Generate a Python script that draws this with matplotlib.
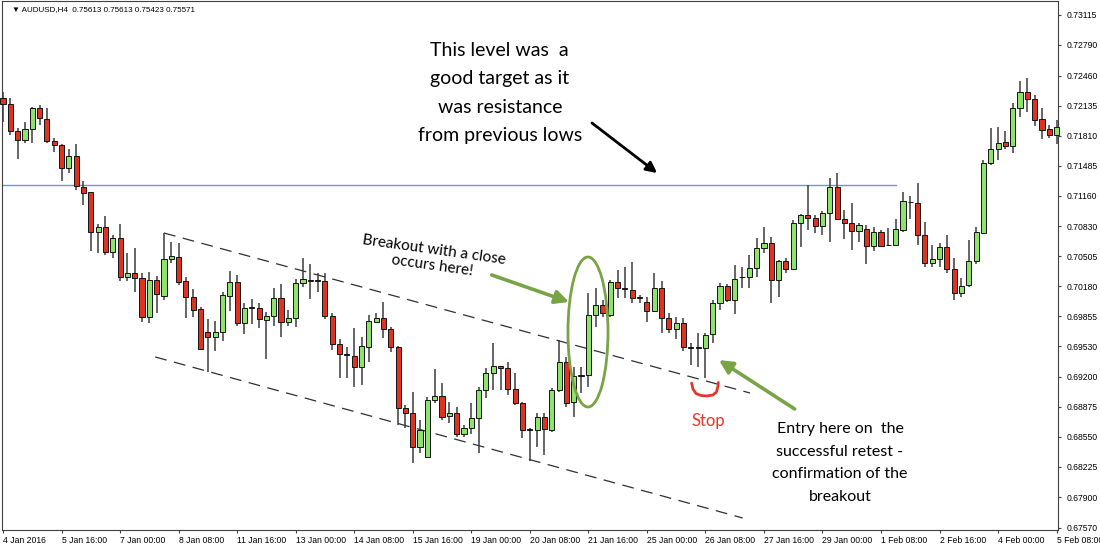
import matplotlib
matplotlib.use("Agg")
import matplotlib.pyplot as plt
from matplotlib.patches import Ellipse
import numpy as np

# ---------------- data (AUDUSD H4 candles) ----------------
opens = [
    .72217, .72152, .71860, .71762, .71881, .72109, .71990, .71752, .71708, .71459,
    .71589, .71254, .71200, .70767, .70821, .70551, .70702, .70280, .70323, .70269,
    .69847, .70248, .70075, .70475, .70497, .70237, .70064, .69934, .69685, .69631,
    .69685, .70075, .70226, .69782, .69956, .69945, .69815, .69858, .70053, .69793,
    .69837, .70215, .70248, .70237, .70237, .69858, .69555, .69447, .69425, .69306,
    .69523, .69793, .69837, .69718, .69523, .68863, .68809, .68441, .68333, .68949,
    .68993, .68776, .68809, .68582, .68647, .68755, .69058, .69241, .69317, .69296,
    .69068, .68917, .68636, .68625, .68766, .68625, .69058, .69361, .68928, .69220,
    .69220, .69869, .69977, .69869, .70226, .70161, .70140, .70064, .70010, .69912,
    .70161, .69837, .69718, .69782, .69523, .69512, .69512, .69663, .69999, .70183,
    .70031, .70280, .70280, .70378, .70594, .70648, .70248, .70453, .70367, .70864,
    .70951, .70918, .70832, .70973, .71254, .70908, .70864, .70778, .70799, .70616,
    .70767, .70626, .70626, .70789, .71092, .71081, .70735, .70432, .70475, .70605,
    .70367, .70107, .70194, .70453, .70756, .71514, .71665, .71741, .71697, .72109,
    .72282, .72206, .71990, .71881, .71816]
highs = [
    .72282, .72217, .71892, .71957, .72119, .72141, .72109, .71784, .71719, .71665,
    .71719, .71319, .71205, .70854, .70940, .70735, .70854, .70540, .70594, .70323,
    .70334, .70291, .70756, .70659, .70648, .70280, .70150, .69956, .69826, .69804,
    .70118, .70345, .70302, .69999, .70042, .69999, .69901, .70161, .70204, .69923,
    .70258, .70486, .70421, .70323, .70323, .69891, .69609, .69523, .69728, .69631,
    .69869, .69891, .70010, .69739, .69534, .68895, .69036, .68733, .68982, .69285,
    .69133, .68928, .68874, .68679, .68917, .69090, .69296, .69566, .69320, .69361,
    .69241, .68928, .68647, .68809, .68809, .69079, .69599, .69415, .69306, .69306,
    .70107, .70161, .70031, .70248, .70356, .70388, .70442, .70085, .70064, .70323,
    .70237, .69891, .69847, .69837, .69566, .69674, .69674, .70031, .70215, .70204,
    .70410, .70388, .70518, .70702, .70821, .70713, .70464, .70486, .70897, .70962,
    .71276, .70951, .70994, .71351, .71405, .71005, .71081, .70864, .70843, .70821,
    .70789, .70810, .70908, .71200, .71157, .71297, .70875, .70626, .70648, .70735,
    .70486, .70269, .70680, .70821, .71546, .71892, .71903, .71860, .72163, .72401,
    .72433, .72249, .72109, .71925, .71979]
lows = [
    .71957, .71816, .71557, .71730, .71730, .71925, .71730, .71633, .71319, .71405,
    .71221, .71059, .70561, .70540, .70518, .70486, .70237, .70237, .70118, .69793,
    .69782, .69891, .70031, .70432, .70194, .69837, .69847, .69490, .69252, .69480,
    .69588, .69912, .69750, .69663, .69772, .69728, .69393, .69750, .69631, .69750,
    .69739, .70172, .70042, .70118, .69826, .69490, .69187, .69187, .69090, .69112,
    .69361, .69782, .69620, .69469, .68679, .68647, .68268, .68376, .68333, .68917,
    .68733, .68701, .68549, .68549, .68582, .68376, .68971, .69058, .69058, .69004,
    .68895, .68538, .68289, .68441, .68354, .68603, .69036, .68874, .68766, .69025,
    .69090, .69739, .69847, .69847, .70053, .70053, .69999, .69999, .69793, .69901,
    .69674, .69674, .69609, .69480, .69328, .69306, .69187, .69566, .69923, .70010,
    .69880, .70161, .70161, .70280, .70540, .69999, .70064, .70323, .70356, .70605,
    .70789, .70756, .70735, .70659, .70897, .70691, .70572, .70659, .70421, .70561,
    .70605, .70616, .70616, .70767, .70908, .70626, .70388, .70388, .70388, .70323,
    .70031, .70064, .70172, .70421, .70756, .71492, .71546, .71665, .71622, .72011,
    .72065, .71914, .71773, .71784, .71719]
closes = [
    .72152, .71860, .71762, .71881, .72109, .72000, .71752, .71708, .71459, .71589,
    .71265, .71189, .70767, .70821, .70551, .70702, .70280, .70323, .70269, .69847,
    .70248, .70096, .70475, .70507, .70226, .70064, .69923, .69501, .69631, .69685,
    .70085, .70226, .69782, .69945, .69945, .69826, .69858, .70053, .69793, .69837,
    .70215, .70258, .70237, .70248, .69858, .69555, .69447, .69436, .69306, .69534,
    .69804, .69837, .69718, .69523, .68863, .68809, .68441, .68625, .68949, .68993,
    .68766, .68809, .68582, .68647, .68755, .69058, .69241, .69317, .69296, .69068,
    .68917, .68625, .68625, .68766, .68636, .69058, .69361, .68917, .69209, .69209,
    .69869, .69977, .69891, .70226, .70161, .70150, .70053, .70053, .69912, .70161,
    .69837, .69718, .69782, .69523, .69512, .69523, .69653, .69999, .70183, .70031,
    .70258, .70282, .70378, .70594, .70648, .70248, .70453, .70367, .70864, .70951,
    .70918, .70832, .70973, .71254, .70908, .70864, .70778, .70843, .70616, .70767,
    .70616, .70626, .70799, .71102, .71092, .70735, .70432, .70475, .70605, .70367,
    .70107, .70183, .70453, .70767, .71514, .71665, .71730, .71697, .72109, .72282,
    .72206, .71979, .71871, .71816, .71903]

price_ticks = [0.73115, 0.72790, 0.72460, 0.72135, 0.71810, 0.71485, 0.71160,
               0.70830, 0.70505, 0.70180, 0.69855, 0.69530, 0.69200, 0.68875,
               0.68550, 0.68225, 0.67900, 0.67570]
time_labels = ["4 Jan 2016", "5 Jan 16:00", "7 Jan 00:00", "8 Jan 08:00",
               "11 Jan 16:00", "13 Jan 00:00", "14 Jan 08:00", "15 Jan 16:00",
               "19 Jan 00:00", "20 Jan 08:00", "21 Jan 16:00", "25 Jan 00:00",
               "26 Jan 08:00", "27 Jan 16:00", "29 Jan 00:00", "1 Feb 08:00",
               "2 Feb 16:00", "4 Feb 00:00", "5 Feb 08:00"]
label_step = 8
resistance_level = 0.71270

# ---------------- figure ----------------
o = np.array(opens); h = np.array(highs); l = np.array(lows); c = np.array(closes)
x = np.arange(len(o))

fig = plt.figure(figsize=(11, 5.45), dpi=100)
fig.patch.set_facecolor("white")
ax = fig.add_axes([2 / 1100, 15 / 545, 1056 / 1100, 529 / 545])
ax.set_xlim(-0.137, 144.19)
ax.set_ylim(0.67543, 0.73266)

BULL = "#8ee36a"
BEAR = "#e0321e"
up = c >= o
height = c - o
min_h = 0.000025
height = np.where(np.abs(height) < min_h, np.where(up, min_h, -min_h), height)
colors = np.where(up, BULL, BEAR)

ax.vlines(x, l, h, color="#3c3c3c", lw=1.1, zorder=2, clip_on=False)
ax.bar(x, height, bottom=o, width=0.7, color=colors, edgecolor="#151515",
       linewidth=0.7, zorder=3, clip_on=False)

# resistance line
ax.plot([-0.3, 122.0], [resistance_level, resistance_level], color="#7391e3",
        lw=1.0, zorder=1)

# channel lines
dash = (0, (9.5, 6))
ax.plot([22.0, 102.1], [0.70756, 0.69025], color="#303030", lw=0.9,
        linestyle=dash, zorder=1)
ax.plot([20.8, 101.1], [0.69415, 0.67673], color="#303030", lw=0.9,
        linestyle=dash, zorder=1)

# ---------------- axes styling ----------------
tick_font = ["Liberation Sans", "DejaVu Sans"]
for s in ax.spines.values():
    s.set_color("#404040")
    s.set_linewidth(0.8)
ax.yaxis.tick_right()
ax.set_yticks(price_ticks)
ax.set_yticklabels([f"{p:.5f}" for p in price_ticks], fontfamily=tick_font,
                   fontsize=6.2, color="black")
ax.tick_params(axis="y", direction="out", length=2.5, width=0.8, pad=3.5,
               colors="#404040", labelcolor="black")
ax.tick_params(axis="y", left=False)
ticks_x = np.arange(0, len(time_labels) * label_step, label_step)
ax.set_xticks(ticks_x)
ax.set_xticklabels(time_labels, fontfamily=tick_font, fontsize=6.2,
                   color="black", ha="left")
ax.tick_params(axis="x", direction="out", length=2.5, width=0.8, pad=1.5,
               colors="#404040", labelcolor="black")

fig.text(12 / 1100, 1 - 10 / 545,
         "\u25BC AUDUSD,H4  0.75613 0.75613 0.75423 0.75571",
         fontfamily=["Liberation Sans", "DejaVu Sans"], fontsize=5.8,
         va="center", ha="left", color="black")

# ---------------- annotations ----------------
ann_font = ["Lato", "DejaVu Sans"]
top_lines = ["This level was  a", "good target as it", "was resistance",
             "from previous lows"]
top_base = [0.72671, 0.72363, 0.72054, 0.71746]
for t, yb in zip(top_lines, top_base):
    ax.text(67.9, yb, t, fontfamily=ann_font, fontsize=14, ha="center",
            va="baseline", color="black", zorder=6)

ax.annotate("", xy=(89.4, 0.71405), xytext=(80.5, 0.71946),
            arrowprops=dict(arrowstyle="-|>", color="black", lw=2.0,
                            mutation_scale=16, shrinkA=0, shrinkB=0), zorder=6)

ax.text(58.8, 0.70486, "Breakout with a close\noccurs here!",
        fontfamily=ann_font, fontsize=11, ha="center", va="center",
        rotation=-8, rotation_mode="anchor", linespacing=1.15, zorder=6)

GREEN = "#78a446"
ax.annotate("", xy=(77.35, 0.70010), xytext=(66.8, 0.70302),
            arrowprops=dict(arrowstyle="-|>", color=GREEN, lw=2.6,
                            mutation_scale=20, shrinkA=0, shrinkB=0), zorder=6)
ax.add_patch(Ellipse((79.95, 0.69685), 5.47, 0.01623, fill=False,
                     edgecolor=GREEN, lw=2.0, zorder=6))
ax.annotate("", xy=(97.85, 0.69382), xytext=(108.2, 0.68852),
            arrowprops=dict(arrowstyle="-|>", color=GREEN, lw=2.6,
                            mutation_scale=20, shrinkA=0, shrinkB=0), zorder=6)

RED = "#e8352a"
cup_x = [94.12, 94.30, 94.71, 95.39, 96.21, 97.03, 97.51, 97.72, 97.76]
cup_y = [0.69133, 0.69068, 0.69020, 0.68998, 0.68993, 0.69004, 0.69036,
         0.69101, 0.69139]
ax.plot(cup_x, cup_y, color=RED, lw=2.0, solid_capstyle="round",
        solid_joinstyle="round", zorder=6)
ax.text(96.4, 0.68668, "Stop", fontfamily=ann_font, fontsize=12, color=RED,
        ha="center", va="baseline", zorder=6)

entry_lines = ["Entry here on  the", "successful retest -", "confirmation of the",
               "breakout"]
entry_base = [0.68589, 0.68347, 0.68106, 0.67862]
for t, yb in zip(entry_lines, entry_base):
    ax.text(114.4, yb, t, fontfamily=ann_font, fontsize=11.5, ha="center",
            va="baseline", color="black", zorder=6)

fig.savefig("out.png", dpi=100, facecolor="white")
